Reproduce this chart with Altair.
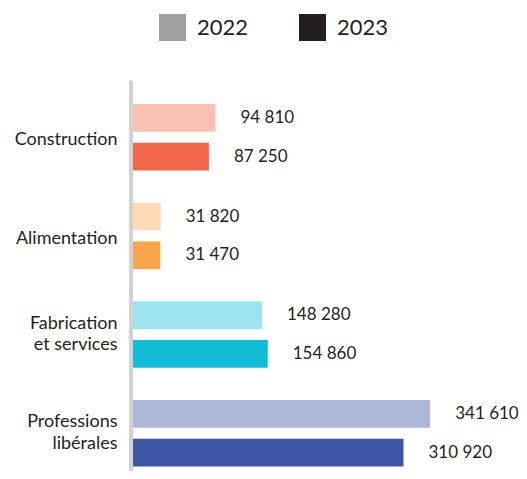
import altair as alt
import pandas as pd

categories = ["Construction", "Alimentation", "Fabrication\net services", "Professions\nlibérales"]
years = ["2022", "2023"]
values_2022 = [94810, 31820, 148280, 341610]
values_2023 = [87250, 31470, 154860, 310920]
colors_2022 = ["#f9bfb0", "#fdd9b5", "#9be3ee", "#adb8d9"]
colors_2023 = ["#f26649", "#f9a64a", "#12bcd6", "#3d55a3"]
legend_colors = ["#a0a0a0", "#231f20"]

rows = []
for i, c in enumerate(categories):
    rows.append({"cat": c, "year": "2022", "value": values_2022[i], "fill": colors_2022[i]})
    rows.append({"cat": c, "year": "2023", "value": values_2023[i], "fill": colors_2023[i]})
df = pd.DataFrame(rows)

FONT = "Lato"
TXT = "#231f20"

y_enc = alt.Y(
    "cat:N",
    sort=categories,
    scale=alt.Scale(paddingInner=0.327, paddingOuter=0.145, align=0.84),
    axis=alt.Axis(
        title=None,
        labelExpr="split(datum.label, '\\n')",
        labelFontSize=18,
        labelFont=FONT,
        labelColor=TXT,
        labelPadding=13.5,
        labelLineHeight=21.6,
        labelAlign="right",
        labelOffset={"condition": {"test": "indexof(datum.label, '\\n') >= 0", "value": -11}, "value": 3},
        ticks=False,
        tickSize=0,
        domainColor="#d1d2d4",
        domainWidth=4,
        offset=2.5,
        grid=False,
    ),
)
yoff = alt.YOffset("year:N", sort=years, scale=alt.Scale(paddingInner=0.284, paddingOuter=0))
x_enc = alt.X("value:Q", scale=alt.Scale(domain=[0, 400000], nice=False, zero=True), axis=None)

base = alt.Chart(df)

bars = base.mark_bar(cornerRadius=0).encode(
    y=y_enc, yOffset=yoff, x=x_enc, fill=alt.Fill("fill:N", scale=None)
)

labels = base.transform_calculate(
    label="replace(format(datum.value, ','), ',', ' ')"
).mark_text(align="left", baseline="middle", dx=25, fontSize=17, font=FONT, color=TXT).encode(
    y=y_enc, yOffset=yoff, x=x_enc, text="label:N"
)

legend_layer = base.mark_square(opacity=0, size=1).encode(
    y=y_enc,
    x=x_enc,
    color=alt.Color(
        "year:N",
        scale=alt.Scale(domain=years, range=legend_colors),
        legend=alt.Legend(
            title=None,
            orient="none",
            legendX=26,
            legendY=-66,
            direction="horizontal",
            symbolType="square",
            symbolSize=729,
            symbolOpacity=1,
            symbolStrokeWidth=0,
            labelFontSize=22,
            labelFont=FONT,
            labelColor=TXT,
            labelOffset=11,
            columnPadding=50,
            padding=0,
        ),
    ),
)

chart = (
    alt.layer(bars, labels, legend_layer)
    .properties(
        width=348,
        height=391,
        padding={"left": 125, "top": 72, "right": 38, "bottom": 0},
        autosize=alt.AutoSizeParams(type="none"),
    )
    .configure_view(stroke=None)
)

chart.save("out.html", embed_options={"renderer": "svg", "actions": False})
